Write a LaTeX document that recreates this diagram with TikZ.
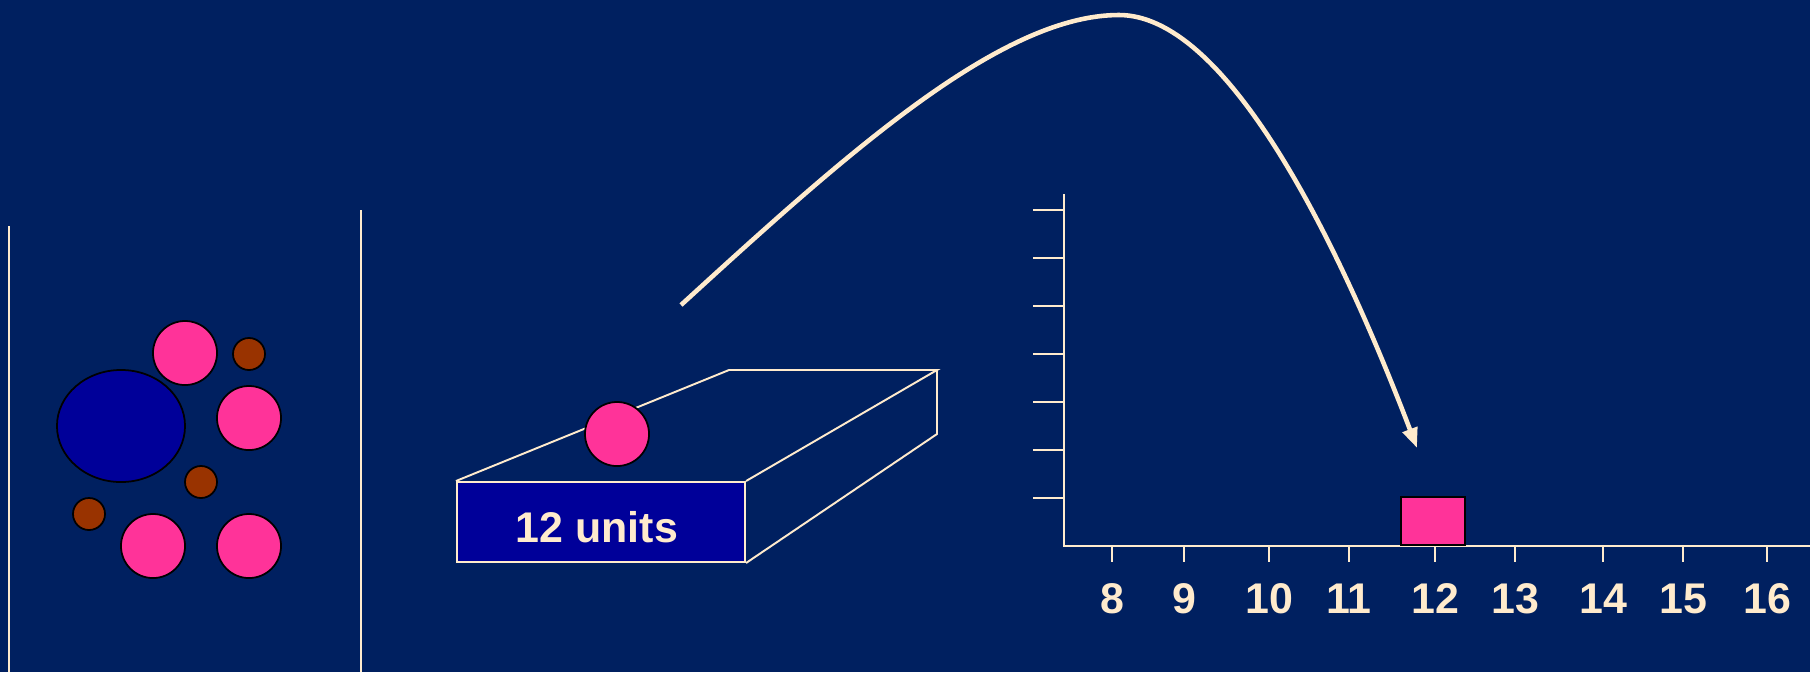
\documentclass[tikz,border=0pt]{standalone}
\usepackage{fontspec}
\setmainfont{Liberation Sans}
\usepackage{xcolor}
\usetikzlibrary{arrows.meta,shapes.geometric}
\definecolor{navybg}{RGB}{0,32,96}
\definecolor{cream}{RGB}{255,235,205}
\definecolor{ballpink}{RGB}{255,51,153}
\definecolor{ionbrown}{RGB}{153,51,0}
\definecolor{deepblue}{RGB}{0,0,153}

\begin{document}
\begin{tikzpicture}[
    x=0.01cm, y=-0.01cm,
    font=\fontsize{12.2}{14}\selectfont\bfseries,
    bigball/.style={circle, draw=black, line width=0.5pt, fill=ballpink, minimum size=6.4mm, inner sep=0pt},
    smallball/.style={circle, draw=black, line width=0.5pt, fill=ionbrown, minimum size=3.2mm, inner sep=0pt},
    creamline/.style={draw=cream, line width=0.55pt},
    flight/.style={-{Triangle[length=2mm, width=1.5mm]}, draw=cream, line width=1.3pt}
  ]
    \fill[navybg] (0,0) rectangle (1810,672);
    \useasboundingbox (0,0) rectangle (1810,672);

    % left panel
    \draw[creamline] (9,226) -- (9,672);
    \draw[creamline] (361,210) -- (361,672);
    \node[ellipse, draw=black, line width=0.5pt, fill=deepblue, minimum width=12.8mm,
      minimum height=11.2mm, inner sep=0pt] (nucleus) at (121,426) {};
    \foreach \n/\x/\y in {a/185/353, b/249/418, c/153/546, d/249/546} {
      \node[bigball] (p\n) at (\x,\y) {};
    }
    \foreach \n/\x/\y in {a/249/354, b/201/482, c/89/514} {
      \node[smallball] (q\n) at (\x,\y) {};
    }

    % box
    \node[draw=cream, line width=0.55pt, fill=deepblue, text=cream, minimum width=2.88cm,
      minimum height=0.8cm, inner sep=0pt] (front) at (601,522)
      {\kern-0.8mm\raisebox{-0.55mm}[\height][\depth]{12 units}};
    \coordinate (backleft) at (729,370);
    \coordinate (backright) at (937,370);
    \coordinate (backlow) at (937,434);
    \draw[creamline] (front.north west) -- (backleft) -- (backright) -- (front.north east);
    \draw[creamline] (backright) -- (backlow) -- (front.south east);
    \node[bigball] (ball) at (617,434) {};

    % axes
    \coordinate (origin) at (1064,546);
    \draw[creamline] (1064,194) -- (origin) -- (1810,546);
    \foreach \y in {210,258,306,354,402,450,498} {
      \draw[creamline] (1033,\y) -- (1064,\y);
    }
    \foreach \x/\n in {1112/8,1184/9,1269/10,1349/11,1435/12,1515/13,1603/14,1683/15,1767/16} {
      \draw[creamline] (\x,546) -- (\x,562);
      \node[text=cream, anchor=base, inner sep=0pt] (n\n) at (\x,613) {\n};
    }
    \node[draw=black, line width=0.6pt, fill=ballpink, minimum width=6.4mm, minimum height=4.8mm,
      inner sep=0pt, anchor=south] (bar) at (1433,546) {};

    % flight path
    \coordinate (launch) at (681,305);
    \coordinate (apex) at (1119,15);
    \coordinate (landing) at (1417,448);
    \draw[flight] (launch) .. controls (845,155) and (1000,15) .. (apex)
      .. controls (1222,15) and (1330,220) .. (landing);
\end{tikzpicture}
\end{document}
